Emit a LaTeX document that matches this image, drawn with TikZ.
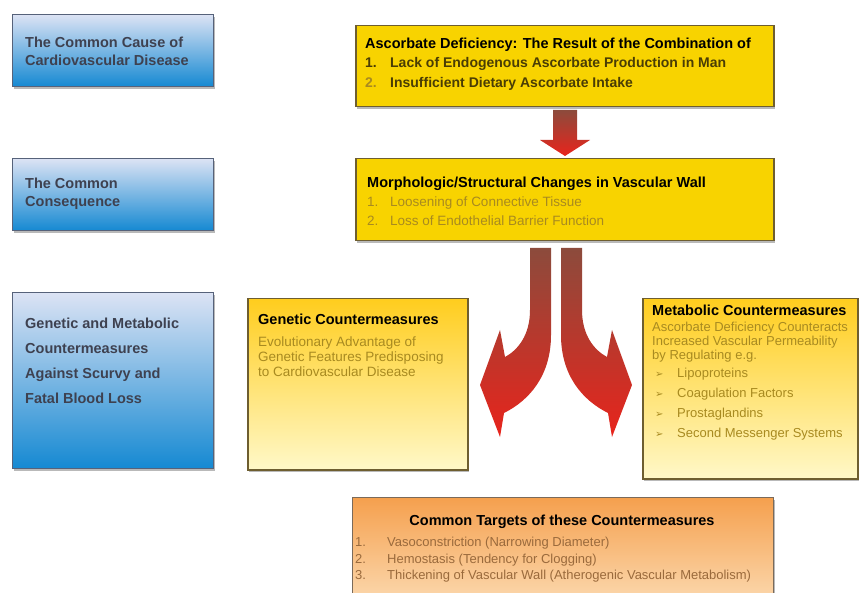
\documentclass[tikz,border=0pt]{standalone}
\usepackage{fontspec}
\setmainfont{Liberation Sans}
\newfontfamily\symfont{DejaVu Sans}
\usetikzlibrary{shadows}
\definecolor{bluetop}{HTML}{DCE3F4}
\definecolor{bluebot}{HTML}{1589D2}
\definecolor{blueedge}{HTML}{56627A}
\definecolor{yellowfill}{HTML}{F8D300}
\definecolor{goldedge}{HTML}{6E5E30}
\definecolor{goldtop}{HTML}{FFCD1E}
\definecolor{goldbot}{HTML}{FFF8C8}
\definecolor{orangetop}{HTML}{F5A04E}
\definecolor{orangebot}{HTML}{FCDDB6}
\definecolor{orangeedge}{HTML}{7A6A5A}
\definecolor{arrowtop}{HTML}{8C4B3C}
\definecolor{arrowbot}{HTML}{E8241C}
\definecolor{sidegray}{HTML}{3E4150}
\definecolor{deeptext}{HTML}{4A3D05}
\definecolor{fadetext}{HTML}{A88A20}
\definecolor{targettext}{HTML}{9A6A3C}
\newcommand{\panel}[6]{\node[#1, anchor=north west, minimum width=#5pt, minimum height=#6pt] (#2) at (#3,#4) {};}
\newcommand{\itemno}[2]{\makebox[#1pt][l]{#2}}
\newcommand{\bentarrow}{(530,248) -- (530,310) .. controls (530,335) and (518,350) .. (505,357) -- (500,330) -- (480,385) -- (500,437) -- (504,413) .. controls (530,400) and (551,375) .. (551,335) -- (551,248) -- cycle}
\tikzset{
  shade box/.style={drop shadow={shadow xshift=1.5pt, shadow yshift=-2.5pt, opacity=.55}},
  bluepanel/.style={shade box, draw=blueedge, line width=1.2pt, top color=bluetop, bottom color=bluebot},
  yellowpanel/.style={shade box, draw=goldedge, line width=1.5pt, fill=yellowfill},
  goldpanel/.style={shade box, draw=goldedge, line width=1.5pt, top color=goldtop, bottom color=goldbot},
  orangepanel/.style={shade box, draw=orangeedge, line width=1.2pt, top color=orangetop, bottom color=orangebot},
  sidetext/.style={anchor=north west, inner sep=0pt, align=left, text=sidegray, font=\fontsize{14.5}{17.5}\selectfont\bfseries},
  headtext/.style={anchor=north west, inner sep=0pt, font=\fontsize{14.5}{18}\selectfont\bfseries},
  bodytext/.style={anchor=north west, inner sep=0pt, align=left, text=fadetext, font=\fontsize{13.5}{15}\selectfont},
  arrowfill/.style={top color=arrowtop, middle color=arrowbot!75!arrowtop, bottom color=arrowbot},
}

\begin{document}
\begin{tikzpicture}[x=1pt, y=-1pt]
\useasboundingbox (0,0) rectangle (859,593);
% left column
\panel{bluepanel}{cause}{12}{14}{201}{72}
\panel{bluepanel}{conseq}{12}{158}{201}{72}
\panel{bluepanel}{counter}{12}{292}{201}{176}
\node[sidetext] (cause-t) at (25,37) {The Common Cause of\\Cardiovascular Disease};
\node[sidetext] (conseq-t) at (25,178) {The Common\\Consequence};
\node[sidetext, font=\fontsize{14.5}{25}\selectfont\bfseries] (counter-t) at (25,318) {Genetic and Metabolic\\Countermeasures\\Against Scurvy and\\Fatal Blood Loss};
% top boxes
\panel{yellowpanel}{deficiency}{355}{25}{418}{81}
\panel{yellowpanel}{changes}{355}{158}{418}{82}
\node[headtext] (deficiency-t) at (365,38) {Ascorbate Deficiency: The Result of the Combination of};
\node[bodytext, text=deeptext, font=\fontsize{14}{20.5}\selectfont\bfseries] (deficiency-l) at (365,57)
  {\itemno{25}{1.}Lack of Endogenous Ascorbate Production in Man\\\itemno{25}{\color{fadetext}2.}Insufficient Dietary Ascorbate Intake};
\node[headtext] (changes-t) at (367,176.5) {Morphologic/Structural Changes in Vascular Wall};
\node[bodytext, font=\fontsize{13.5}{19}\selectfont] (changes-l) at (367,197)
  {\itemno{23}{1.}Loosening of Connective Tissue\\\itemno{23}{2.}Loss of Endothelial Barrier Function};
% arrows
\shade[top color=arrowtop, bottom color=arrowbot] (553,110) -- (577,110) -- (577,140) -- (590,140) -- (565,156) -- (540,140) -- (553,140) -- cycle;
\shade[arrowfill] \bentarrow;
\shade[arrowfill, shift={(1112,0)}, xscale=-1] \bentarrow;
% countermeasures
\panel{goldpanel}{genetic}{247}{298}{220}{171}
\panel{goldpanel}{metabolic}{642}{298}{215}{180}
\node[headtext] (genetic-t) at (258,313.5) {Genetic Countermeasures};
\node[bodytext] (genetic-b) at (258,337) {Evolutionary Advantage of\\Genetic Features Predisposing\\to Cardiovascular Disease};
\node[headtext] (metabolic-t) at (652,305) {Metabolic Countermeasures};
\node[bodytext, font=\fontsize{13}{14}\selectfont] (metabolic-b) at (652,322) {Ascorbate Deficiency Counteracts\\Increased Vascular Permeability\\by Regulating e.g.};
\node[bodytext, font=\fontsize{13}{20}\selectfont] (metabolic-l) at (655,368)
  {\itemno{22}{\symfont\fontsize{10}{10}\selectfont ➢}Lipoproteins\\\itemno{22}{\symfont\fontsize{10}{10}\selectfont ➢}Coagulation Factors\\\itemno{22}{\symfont\fontsize{10}{10}\selectfont ➢}Prostaglandins\\\itemno{22}{\symfont\fontsize{10}{10}\selectfont ➢}Second Messenger Systems};
% common targets
\panel{orangepanel}{targets}{352}{497}{421}{113}
\node[headtext, anchor=north] (targets-t) at (562,515) {Common Targets of these Countermeasures};
\node[bodytext, text=targettext, font=\fontsize{13}{16.5}\selectfont] (targets-l) at (355,537)
  {\itemno{32}{1.}Vasoconstriction (Narrowing Diameter)\\\itemno{32}{2.}Hemostasis (Tendency for Clogging)\\\itemno{32}{3.}Thickening of Vascular Wall (Atherogenic Vascular Metabolism)};
\end{tikzpicture}
\end{document}
